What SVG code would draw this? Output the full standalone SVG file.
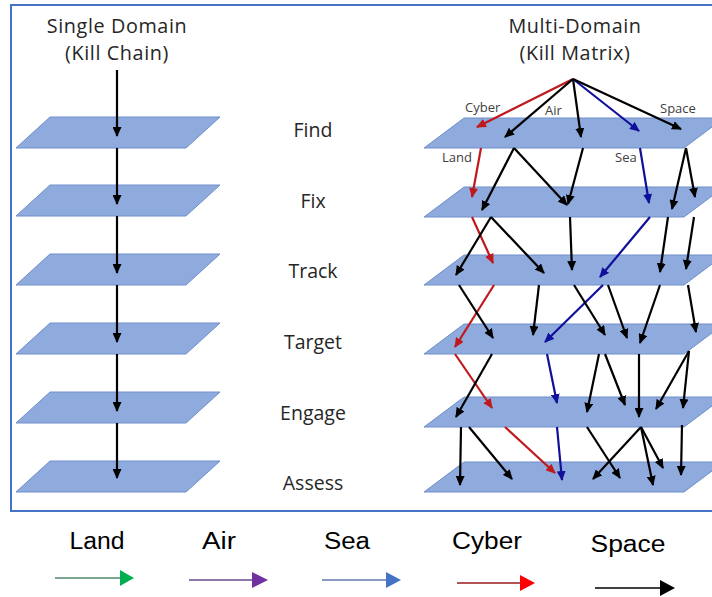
<svg xmlns="http://www.w3.org/2000/svg" width="712" height="597" viewBox="0 0 712 597">
  <style>
    .frame { fill: #ffffff; stroke: #4472c4; stroke-width: 2; }
    .plane { fill: #8faadc; stroke: #6f8fcb; stroke-width: 1; }
    .head { font-family: "Open Sans", "Noto Sans", sans-serif; font-size: 19.8px; letter-spacing: 0.6px; fill: #262626; text-anchor: middle; }
    .stage { font-family: "Open Sans", "Noto Sans", sans-serif; font-size: 19.5px; fill: #262626; text-anchor: middle; }
    .dom { font-family: "Open Sans", "Noto Sans", sans-serif; font-size: 13px; fill: #404040; }
    .leg { font-family: "Liberation Sans", Arial, sans-serif; font-size: 23px; fill: #000000; text-anchor: middle; }
    .k { stroke: #000000; stroke-width: 2.2; fill: none; marker-end: url(#ak); }
    .r { stroke: #c0191c; stroke-width: 2.2; fill: none; marker-end: url(#ar); }
    .b { stroke: #10109a; stroke-width: 2.2; fill: none; marker-end: url(#ab); }
    .lg { stroke-width: 1.6; fill: none; }
  </style>
  <defs>
    <marker id="ak" viewBox="0 0 10 9" refX="9" refY="4.5" markerWidth="10" markerHeight="9" markerUnits="userSpaceOnUse" orient="auto">
      <path d="M0,0 L10,4.5 L0,9 z" fill="#000000"/>
    </marker>
    <marker id="ar" viewBox="0 0 10 9" refX="9" refY="4.5" markerWidth="10" markerHeight="9" markerUnits="userSpaceOnUse" orient="auto">
      <path d="M0,0 L10,4.5 L0,9 z" fill="#c0191c"/>
    </marker>
    <marker id="ab" viewBox="0 0 10 9" refX="9" refY="4.5" markerWidth="10" markerHeight="9" markerUnits="userSpaceOnUse" orient="auto">
      <path d="M0,0 L10,4.5 L0,9 z" fill="#10109a"/>
    </marker>
    <path id="pl" d="M34,0 L204,0 L170,31 L0,31 z"/>
    <path id="pr" d="M40,0 L300,0 L260,30 L0,30 z"/>
  </defs>

  <!-- outer frame -->
  <rect class="frame" x="11" y="5" width="720" height="506"/>

  <!-- column headings -->
  <g id="single-domain">
    <text class="head" x="117" y="33">Single Domain</text>
    <text class="head" x="117" y="60">(Kill Chain)</text>
  </g>
  <g id="multi-domain">
    <text class="head" x="575" y="33">Multi-Domain</text>
    <text class="head" x="575" y="60">(Kill Matrix)</text>
  </g>

  <!-- kill chain planes (left) -->
  <g id="chain-find"><use href="#pl" class="plane" x="16" y="117"/></g>
  <g id="chain-fix"><use href="#pl" class="plane" x="16" y="185"/></g>
  <g id="chain-track"><use href="#pl" class="plane" x="16" y="254"/></g>
  <g id="chain-target"><use href="#pl" class="plane" x="16" y="323"/></g>
  <g id="chain-engage"><use href="#pl" class="plane" x="16" y="392"/></g>
  <g id="chain-assess"><use href="#pl" class="plane" x="16" y="461"/></g>

  <!-- stage labels -->
  <g id="stage-find"><text class="stage" x="313" y="137">Find</text></g>
  <g id="stage-fix"><text class="stage" x="313" y="208">Fix</text></g>
  <g id="stage-track"><text class="stage" x="313" y="278">Track</text></g>
  <g id="stage-target"><text class="stage" x="313" y="349">Target</text></g>
  <g id="stage-engage"><text class="stage" x="313" y="420">Engage</text></g>
  <g id="stage-assess"><text class="stage" x="313" y="490">Assess</text></g>

  <!-- kill matrix planes (right) -->
  <g id="matrix-find"><use href="#pr" class="plane" x="424" y="118"/></g>
  <g id="matrix-fix"><use href="#pr" class="plane" x="424" y="187"/></g>
  <g id="matrix-track"><use href="#pr" class="plane" x="424" y="255"/></g>
  <g id="matrix-target"><use href="#pr" class="plane" x="424" y="324"/></g>
  <g id="matrix-engage"><use href="#pr" class="plane" x="424" y="397"/></g>
  <g id="matrix-assess"><use href="#pr" class="plane" x="424" y="462"/></g>

  <!-- domain labels -->
  <g id="domain-labels">
    <text class="dom" x="465" y="112">Cyber</text>
    <text class="dom" x="545" y="115">Air</text>
    <text class="dom" x="660" y="113">Space</text>
    <text class="dom" x="442" y="162">Land</text>
    <text class="dom" x="615" y="162">Sea</text>
  </g>

  <g id="connectors">
    <!-- kill chain -->
    <line class="k" x1="117" y1="70" x2="117" y2="136"/>
    <line class="k" x1="117" y1="148" x2="117" y2="204"/>
    <line class="k" x1="117" y1="216" x2="117" y2="273"/>
    <line class="k" x1="117" y1="285" x2="117" y2="342"/>
    <line class="k" x1="117" y1="354" x2="117" y2="411"/>
    <line class="k" x1="117" y1="423" x2="117" y2="478"/>

    <!-- matrix: origin to Find -->
    <line class="r" x1="573" y1="79" x2="477" y2="127"/>
    <line class="k" x1="573" y1="79" x2="505" y2="137"/>
    <line class="k" x1="573" y1="79" x2="581" y2="137"/>
    <line class="b" x1="573" y1="79" x2="639" y2="131"/>
    <line class="k" x1="573" y1="79" x2="681" y2="129"/>

    <!-- Find to Fix -->
    <line class="r" x1="481" y1="148" x2="472" y2="197"/>
    <line class="k" x1="514" y1="148" x2="482" y2="210"/>
    <line class="k" x1="514" y1="148" x2="567" y2="205"/>
    <line class="k" x1="583" y1="148" x2="568" y2="204"/>
    <line class="b" x1="640" y1="148" x2="649" y2="203"/>
    <line class="k" x1="686" y1="148" x2="672" y2="209"/>
    <line class="k" x1="686" y1="148" x2="695" y2="197"/>

    <!-- Fix to Track -->
    <line class="r" x1="472" y1="217" x2="493" y2="263"/>
    <line class="k" x1="491" y1="217" x2="456" y2="275"/>
    <line class="k" x1="491" y1="217" x2="544" y2="273"/>
    <line class="k" x1="570" y1="217" x2="572" y2="270"/>
    <line class="b" x1="650" y1="217" x2="600" y2="277"/>
    <line class="k" x1="668" y1="217" x2="660" y2="272"/>
    <line class="k" x1="694" y1="217" x2="686" y2="269"/>

    <!-- Track to Target -->
    <line class="r" x1="494" y1="285" x2="455" y2="347"/>
    <line class="k" x1="459" y1="285" x2="493" y2="338"/>
    <line class="k" x1="539" y1="285" x2="533" y2="335"/>
    <line class="b" x1="603" y1="285" x2="545" y2="342"/>
    <line class="k" x1="574" y1="285" x2="605" y2="335"/>
    <line class="k" x1="608" y1="285" x2="627" y2="338"/>
    <line class="k" x1="660" y1="285" x2="640" y2="343"/>
    <line class="k" x1="688" y1="285" x2="696" y2="332"/>

    <!-- Target to Engage -->
    <line class="r" x1="455" y1="354" x2="492" y2="408"/>
    <line class="k" x1="492" y1="354" x2="456" y2="417"/>
    <line class="b" x1="547" y1="354" x2="557" y2="403"/>
    <line class="k" x1="599" y1="354" x2="587" y2="412"/>
    <line class="k" x1="605" y1="354" x2="625" y2="405"/>
    <line class="k" x1="639" y1="354" x2="639" y2="417"/>
    <line class="k" x1="689" y1="351" x2="656" y2="409"/>
    <line class="k" x1="689" y1="351" x2="683" y2="408"/>

    <!-- Engage to Assess -->
    <line class="k" x1="461" y1="427" x2="460" y2="485"/>
    <line class="k" x1="469" y1="427" x2="512" y2="479"/>
    <line class="r" x1="505" y1="427" x2="555" y2="473"/>
    <line class="b" x1="557" y1="427" x2="562" y2="480"/>
    <line class="k" x1="587" y1="427" x2="620" y2="478"/>
    <line class="k" x1="641" y1="427" x2="593" y2="479"/>
    <line class="k" x1="641" y1="427" x2="653" y2="485"/>
    <line class="k" x1="641" y1="427" x2="663" y2="468"/>
    <line class="k" x1="682" y1="425" x2="681" y2="475"/>
  </g>

  <!-- legend -->
  <g id="legend-land">
    <text class="leg" x="97" y="549" textLength="55" lengthAdjust="spacingAndGlyphs">Land</text>
    <line class="lg" x1="55" y1="578" x2="121" y2="578" stroke="#4f8a6c"/>
    <polygon points="120,570 134,578 120,586" fill="#00b050"/>
  </g>
  <g id="legend-air">
    <text class="leg" x="219" y="549" textLength="34" lengthAdjust="spacingAndGlyphs">Air</text>
    <line class="lg" x1="189" y1="580" x2="253" y2="580" stroke="#6a4a8a"/>
    <polygon points="252,572 268,580 252,588" fill="#7030a0"/>
  </g>
  <g id="legend-sea">
    <text class="leg" x="347" y="549" textLength="46" lengthAdjust="spacingAndGlyphs">Sea</text>
    <line class="lg" x1="322" y1="580" x2="387" y2="580" stroke="#5f78b0"/>
    <polygon points="386,572 401,580 386,588" fill="#4472c4"/>
  </g>
  <g id="legend-cyber">
    <text class="leg" x="487" y="549" textLength="70" lengthAdjust="spacingAndGlyphs">Cyber</text>
    <line class="lg" x1="457" y1="583" x2="521" y2="583" stroke="#9a1a1a"/>
    <polygon points="520,575 535,583 520,591" fill="#ff0000"/>
  </g>
  <g id="legend-space">
    <text class="leg" x="628" y="552" textLength="75" lengthAdjust="spacingAndGlyphs">Space</text>
    <line class="lg" x1="595" y1="588" x2="661" y2="588" stroke="#000000"/>
    <polygon points="660,580 675,588 660,596" fill="#000000"/>
  </g>
</svg>
